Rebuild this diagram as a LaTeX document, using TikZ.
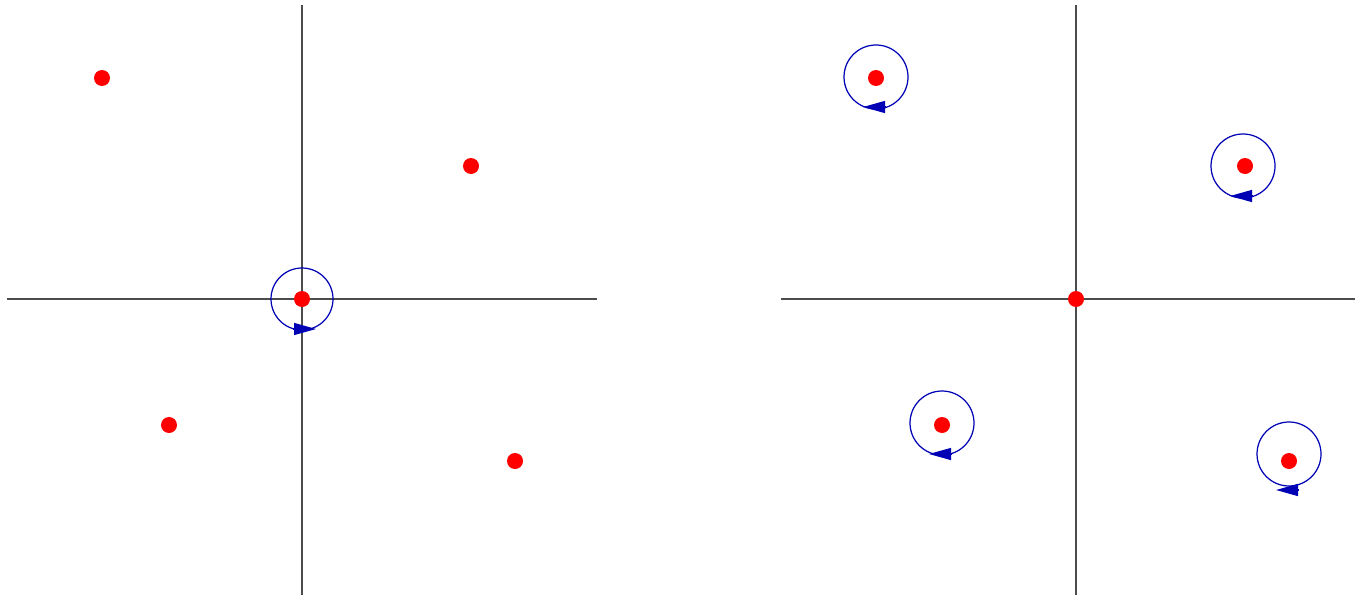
\documentclass[tikz,border=0pt]{standalone}
\usepackage{tikz}
\usetikzlibrary{arrows.meta,calc}
\definecolor{orbitblue}{RGB}{0,0,180}
\begin{document}
\begin{tikzpicture}[
  x = 0.02cm, y = 0.02cm,
  axis/.style = {draw = black!70, line width = 0.8pt},
  body/.style = {circle, fill = red, inner sep = 0pt, minimum size = 0.32cm},
  orbit/.style = {draw = orbitblue, line width = 0.7pt},
  spin/.style = {orbitblue, line width = 0.7pt,
    -{Triangle[length = 0.44cm, width = 0.24cm]}}
]
\useasboundingbox (0,0) rectangle (1355,-595);
% left panel
\coordinate (lw) at (7,-299);
\coordinate (le) at (597,-299);
\coordinate (ln) at (302,-5);
\coordinate (ls) at (302,-595);
\draw[axis] (lw) -- (le);
\draw[axis] (ln) -- (ls);
\node[body] (la) at (102,-78) {};
\node[body] (lb) at (471,-166) {};
\node[body] (lo) at (302,-299) {};
\node[body] (lc) at (169,-425) {};
\node[body] (ld) at (515,-461) {};
\draw[orbit] (lo) circle[radius = 31];
\draw[spin] ($(lo)+(-9,-30)$) -- ($(lo)+(14,-30)$);
% right panel
\coordinate (rw) at (781,-299);
\coordinate (re) at (1355,-299);
\coordinate (rn) at (1076,-5);
\coordinate (rs) at (1076,-595);
\draw[axis] (rw) -- (re);
\draw[axis] (rn) -- (rs);
\node[body] (ra) at (876,-78) {};
\node[body] (rb) at (1245,-166) {};
\node[body] (ro) at (1076,-299) {};
\node[body] (rc) at (942,-425) {};
\node[body] (rd) at (1289,-461) {};
\foreach \p/\dx/\dy/\ay in {ra/0/1/-30, rb/-2/0/-30, rc/0/2/-31, rd/0/7/-36} {
  \coordinate (\p c) at ($(\p) + (\dx,\dy)$);
  \draw[orbit] (\p c) circle[radius = 32];
  \draw[spin] ($(\p c)+(10,\ay)$) -- ($(\p c)+(-13,\ay)$);
}
\end{tikzpicture}
\end{document}
